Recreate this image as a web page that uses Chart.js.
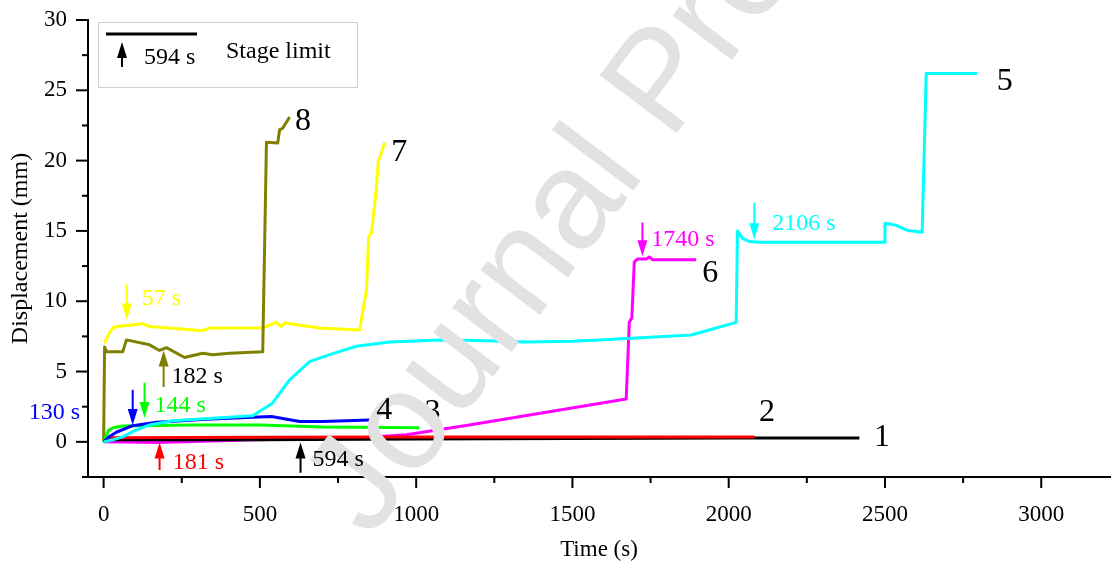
<!DOCTYPE html>
<html lang="en">
<head>
<meta charset="UTF-8">
<title>Displacement - Time</title>
<script src="https://cdn.jsdelivr.net/npm/chart.js"></script>
<style>
  html, body { margin: 0; padding: 0; background: #fff; }
  #wrap { width: 1111px; height: 564px; }
</style>
</head>
<body>
<div id="wrap"><canvas id="grafico"></canvas></div>
<script>
// curves: time (s) / displacement (mm)
const t1 = [0, 20, 500, 1000, 1500, 2000, 2418];
const d1 = [0, 0.15, 0.15, 0.2, 0.24, 0.27, 0.28];
const t2 = [0, 20, 500, 1000, 1500, 2082];
const d2 = [0, 0.3, 0.33, 0.35, 0.35, 0.35];
const t3 = [0, 15, 30, 60, 275, 500, 700, 1010];
const d3 = [0, 0.8, 1.0, 1.13, 1.2, 1.2, 1.05, 1.0];
const t4 = [0, 20, 42, 93, 170, 329, 477, 537, 627, 700, 851];
const d4 = [0, 0.4, 0.7, 1.15, 1.4, 1.6, 1.75, 1.8, 1.45, 1.45, 1.55];
const t5 = [0, 30, 61, 100, 147, 221, 477, 540, 595, 659, 723, 809, 915, 1075, 1200, 1350, 1500, 1586, 1880, 2024, 2028, 2045, 2065, 2100, 2497, 2500, 2536, 2570, 2587, 2619, 2632, 2795];
const d5 = [0, 0.15, 0.35, 0.8, 1.2, 1.5, 1.85, 2.75, 4.4, 5.7, 6.2, 6.8, 7.1, 7.25, 7.2, 7.1, 7.15, 7.25, 7.6, 8.5, 15.0, 14.45, 14.25, 14.2, 14.2, 15.55, 15.4, 15.05, 15.0, 14.9, 26.2, 26.2];
const t6 = [0, 170, 489, 809, 969, 1170, 1672, 1682, 1690, 1698, 1708, 1736, 1746, 1756, 1896];
const d6 = [0, -0.05, 0.15, 0.27, 0.5, 1.2, 3.05, 8.5, 8.8, 12.8, 13.0, 13.0, 13.15, 12.95, 12.95];
const t7 = [3, 15, 29, 45, 125, 147, 317, 339, 509, 553, 569, 579, 691, 819, 841, 848, 857, 873, 879, 885, 899];
const d7 = [7.0, 7.6, 8.1, 8.2, 8.4, 8.2, 7.9, 8.1, 8.1, 8.5, 8.2, 8.45, 8.1, 7.96, 10.8, 14.6, 14.85, 18.1, 20.0, 20.3, 21.3];
const t8 = [0, 3, 10, 61, 73, 147, 179, 201, 259, 317, 349, 403, 509, 521, 557, 563, 573, 595];
const d8 = [0, 6.75, 6.4, 6.4, 7.25, 6.9, 6.5, 6.7, 6.0, 6.3, 6.2, 6.3, 6.4, 21.3, 21.25, 22.2, 22.3, 23.1];

const xTicks = [0, 500, 1000, 1500, 2000, 2500, 3000];
const yTicks = [0, 5, 10, 15, 20, 25, 30];

// arrows: time, start, tip (mm) + label
const marks = [
  { t: 74, from: 11.2, to: 8.7, color: '#ffff00', text: '57 s', tx: 122, ty: 10.2, tcolor: '#ffff00' },
  { t: 192, from: 3.9, to: 6.5, color: '#808000', text: '182 s', tx: 217, ty: 4.6, tcolor: '#000000' },
  { t: 93, from: 3.7, to: 1.2, color: '#0000ff', text: '130 s', tx: -75, ty: 2.07, tcolor: '#0000ff', align: 'right' },
  { t: 131, from: 4.2, to: 1.7, color: '#00ff00', text: '144 s', tx: 163, ty: 2.6, tcolor: '#00ff00' },
  { t: 179, from: -2.0, to: -0.05, color: '#ff0000', text: '181 s', tx: 221, ty: -1.45, tcolor: '#ff0000' },
  { t: 630, from: -2.2, to: -0.05, color: '#000000', text: '594 s', tx: 668, ty: -1.3, tcolor: '#000000' },
  { t: 1724, from: 15.6, to: 13.2, color: '#ff00ff', text: '1740 s', tx: 1752, ty: 14.4, tcolor: '#ff00ff' },
  { t: 2082, from: 17.0, to: 14.4, color: '#00ffff', text: '2106 s', tx: 2139, ty: 15.5, tcolor: '#00ffff' }
];
const curveNames = [
  { n: '8', t: 612, d: 22.8 }, { n: '7', t: 920, d: 20.6 }, { n: '6', t: 1915, d: 12.0 },
  { n: '5', t: 2858, d: 25.65 }, { n: '4', t: 872, d: 2.25 }, { n: '2', t: 2097, d: 2.05 },
  { n: '1', t: 2465, d: 0.28 }
];

function pts(t, d) { return t.map((v, i) => ({ x: v, y: d[i] })); }
function serie(t, d, color, order) {
  return { data: pts(t, d), borderColor: color, backgroundColor: color, borderWidth: 3,
    showLine: true, pointRadius: 0, tension: 0, order: order, borderJoinStyle: 'round' };
}

function arrow(ctx, x, y0, y1, color) {
  const dir = y1 > y0 ? 1 : -1;
  ctx.strokeStyle = color; ctx.fillStyle = color; ctx.lineWidth = 2;
  ctx.beginPath(); ctx.moveTo(x, y0); ctx.lineTo(x, y1 - dir * 10); ctx.stroke();
  ctx.beginPath(); ctx.moveTo(x, y1); ctx.lineTo(x - 5, y1 - dir * 16); ctx.lineTo(x + 5, y1 - dir * 16);
  ctx.closePath(); ctx.fill();
}

const decor = {
  id: 'decor',
  afterDatasetsDraw(chart) {
    const { ctx, scales: { x, y } } = chart;
    ctx.save();
    ctx.font = '32px "Liberation Serif"';
    ctx.fillStyle = '#000'; ctx.textBaseline = 'middle';
    ctx.fillText('3', x.getPixelForValue(1027), y.getPixelForValue(2.1));
    // watermark
    ctx.translate(370, 540);
    ctx.rotate(-53 * Math.PI / 180);
    ctx.font = '140px "Liberation Sans"';
    ctx.fillStyle = '#e2e2e2';
    ctx.textBaseline = 'alphabetic';
    ctx.fillText('Journal Pre-proof', 0, 0);
    ctx.restore();
  },
  afterDraw(chart) {
    const { ctx, chartArea: a, scales: { x, y } } = chart;
    ctx.save();
    // tick marks, outside
    ctx.strokeStyle = '#000'; ctx.lineWidth = 2;
    for (let v = 0; v <= 3000; v += 250) {
      const p = x.getPixelForValue(v), len = v % 500 === 0 ? 11 : 6;
      ctx.beginPath(); ctx.moveTo(p, a.bottom); ctx.lineTo(p, a.bottom + len); ctx.stroke();
    }
    for (let v = -2.5; v <= 30; v += 2.5) {
      const p = y.getPixelForValue(v), len = v % 5 === 0 ? 12 : 6;
      ctx.beginPath(); ctx.moveTo(a.left, p); ctx.lineTo(a.left - len, p); ctx.stroke();
    }
    // arrows + texts
    ctx.textBaseline = 'middle';
    ctx.font = '24px "Liberation Serif"';
    marks.forEach(m => {
      arrow(ctx, x.getPixelForValue(m.t), y.getPixelForValue(m.from), y.getPixelForValue(m.to), m.color);
      ctx.fillStyle = m.tcolor; ctx.textAlign = m.align || 'left';
      ctx.fillText(m.text, x.getPixelForValue(m.tx), y.getPixelForValue(m.ty));
    });
    ctx.textAlign = 'left'; ctx.fillStyle = '#000';
    ctx.font = '32px "Liberation Serif"';
    curveNames.forEach(c => ctx.fillText(c.n, x.getPixelForValue(c.t), y.getPixelForValue(c.d)));
    // legend box
    const bx = a.left + 10, by = a.top + 2;
    ctx.strokeStyle = '#cfcfcf'; ctx.lineWidth = 1;
    ctx.strokeRect(bx + 0.5, by + 0.5, 259, 65);
    ctx.strokeStyle = '#000'; ctx.lineWidth = 3;
    ctx.beginPath(); ctx.moveTo(bx + 8, by + 12); ctx.lineTo(bx + 99, by + 12); ctx.stroke();
    arrow(ctx, bx + 24, by + 45, by + 20, '#000');
    ctx.fillStyle = '#000'; ctx.font = '24px "Liberation Serif"';
    ctx.fillText('594 s', bx + 46, by + 36);
    ctx.fillText('Stage limit', bx + 128, by + 30);
    ctx.restore();
  }
};

new Chart(document.getElementById('grafico'), {
  type: 'scatter',
  data: {
    datasets: [
      serie(t5, d5, '#00ffff', 1),
      serie(t4, d4, '#0000ff', 2),
      serie(t3, d3, '#00ff00', 3),
      serie(t2, d2, '#ff0000', 4),
      serie(t1, d1, '#000000', 5),
      serie(t6, d6, '#ff00ff', 6),
      serie(t8, d8, '#808000', 7),
      serie(t7, d7, '#ffff00', 8)
    ]
  },
  options: {
    responsive: true, maintainAspectRatio: false, animation: false,
    layout: { padding: { top: 20, right: 1, left: 0, bottom: 0 } },
    plugins: { legend: { display: false }, tooltip: { enabled: false } },
    scales: {
      x: {
        type: 'linear', min: -50, max: 3220,
        afterBuildTicks: s => { s.ticks = xTicks.map(v => ({ value: v })); },
        afterFit: s => { s.height = 87; s.paddingLeft = 0; s.paddingRight = 0; },
        grid: { display: false, drawTicks: false },
        border: { color: '#000', width: 2 },
        ticks: { color: '#000', padding: 24, maxRotation: 0, callback: v => String(v),
          font: { family: 'Liberation Serif', size: 23 } },
        title: { display: true, text: 'Time (s)', color: '#000', padding: { top: 0, bottom: 0 },
          font: { family: 'Liberation Serif', size: 23 } }
      },
      y: {
        type: 'linear', min: -2.5, max: 30,
        afterBuildTicks: s => { s.ticks = yTicks.map(v => ({ value: v })); },
        afterFit: s => { s.width = 88; s.paddingTop = 0; s.paddingBottom = 0; },
        grid: { display: false, drawTicks: false },
        border: { color: '#000', width: 2 },
        ticks: { color: '#000', padding: 21, callback: v => String(v),
          font: { family: 'Liberation Serif', size: 23 } },
        title: { display: true, text: 'Displacement (mm)', color: '#000', padding: { top: 6, bottom: 0 },
          font: { family: 'Liberation Serif', size: 24 } }
      }
    }
  },
  plugins: [decor]
});
</script>
</body>
</html>
